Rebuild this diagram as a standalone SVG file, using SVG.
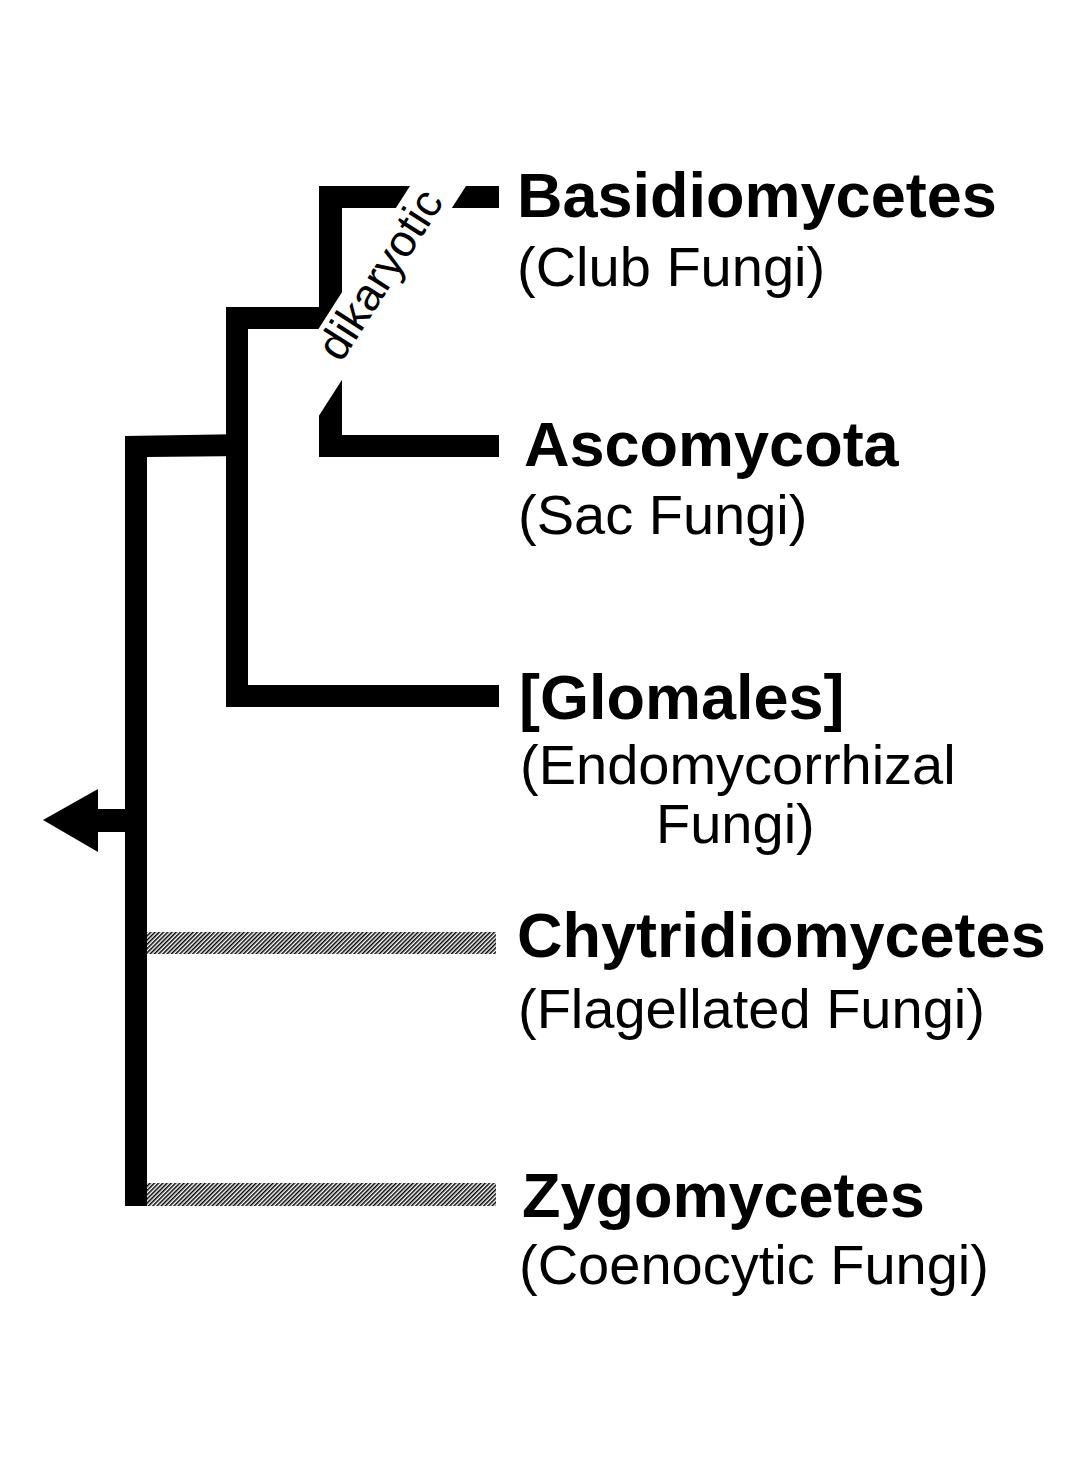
<svg xmlns="http://www.w3.org/2000/svg" width="1090" height="1483" viewBox="0 0 1090 1483">
<style>
.bar{fill:#000}
.head{font-family:"Liberation Sans",Arial,sans-serif;font-weight:bold;font-size:63px;fill:#000}
.sub{font-family:"Liberation Sans",Arial,sans-serif;font-size:56px;fill:#000}
.tag{font-family:"Liberation Sans",Arial,sans-serif;font-size:45px;fill:#000}
</style>
<defs>
<pattern id="hatch" patternUnits="userSpaceOnUse" width="3" height="3" patternTransform="rotate(45)">
<rect width="3" height="3" fill="#fff"/>
<rect width="1.5" height="3" fill="#000"/>
</pattern>
</defs>
<rect width="1090" height="1483" fill="#fff"/>
<g id="connectors">
<polygon class="bar" points="125,436 248,434 248,456 147,457 147,1206 125,1206"/>
<rect class="bar" x="226" y="307" width="22" height="400"/>
<rect class="bar" x="226" y="685" width="273" height="22"/>
<rect class="bar" x="226" y="307" width="116" height="22"/>
<rect class="bar" x="319" y="186" width="23" height="271"/>
<rect class="bar" x="319" y="186" width="180" height="22"/>
<rect class="bar" x="319" y="435" width="180" height="22"/>
<rect class="bar" x="98" y="809" width="27" height="23"/>
<polygon class="bar" points="43,820 98,789 98,852"/>
<rect x="147" y="932" width="349" height="22" fill="url(#hatch)"/>
<rect x="147" y="1183" width="349" height="23" fill="url(#hatch)"/>
<g id="dikaryotic">
<polygon fill="#fff" points="420.2,170 476.2,170 309.8,430 253.8,430"/>
<text class="tag" transform="translate(381,275) rotate(-57.4)" x="0" y="14" text-anchor="middle" textLength="192" lengthAdjust="spacing">dikaryotic</text>
</g>
</g>
<g id="basidiomycetes">
<text class="head" x="517" y="217">Basidiomycetes</text>
<text class="sub" x="517" y="286">(Club Fungi)</text>
</g>
<g id="ascomycota">
<text class="head" x="524" y="466">Ascomycota</text>
<text class="sub" x="518" y="534">(Sac Fungi)</text>
</g>
<g id="glomales">
<text class="head" x="519" y="719">[Glomales]</text>
<text class="sub" x="520" y="784">(Endomycorrhizal</text>
<text class="sub" x="656" y="843">Fungi)</text>
</g>
<g id="chytridiomycetes">
<text class="head" x="517" y="957">Chytridiomycetes</text>
<text class="sub" x="518" y="1028">(Flagellated Fungi)</text>
</g>
<g id="zygomycetes">
<text class="head" x="522" y="1217">Zygomycetes</text>
<text class="sub" x="519" y="1284">(Coenocytic Fungi)</text>
</g>
</svg>
